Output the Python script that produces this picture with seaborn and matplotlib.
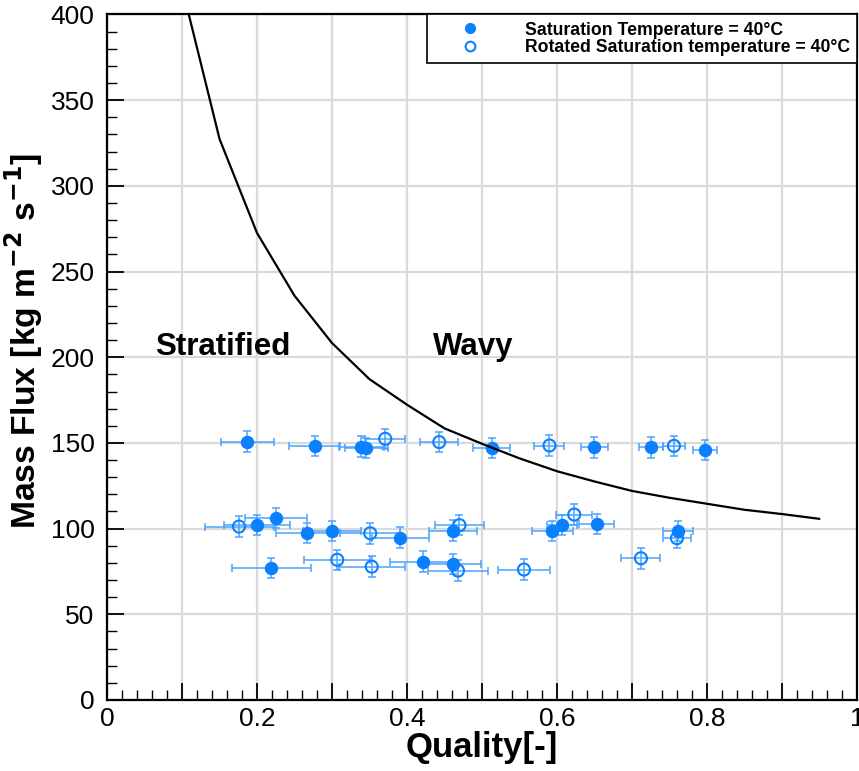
import numpy as np
import pandas as pd
import seaborn as sns
import matplotlib.pyplot as plt
from matplotlib.lines import Line2D
from matplotlib.ticker import MultipleLocator, FuncFormatter

# saturation temperature 40C - filled markers
sat_x = [0.187, 0.277, 0.339, 0.346, 0.513, 0.650, 0.726, 0.797,
         0.200, 0.225, 0.266, 0.300, 0.391, 0.462, 0.594, 0.607, 0.653, 0.762,
         0.219, 0.422, 0.462]
sat_y = [150.7, 148.3, 147.9, 147.0, 147.0, 147.4, 147.4, 146.0,
         102.0, 106.1, 97.5, 98.7, 94.8, 98.9, 98.7, 102.2, 102.6, 98.7,
         76.9, 80.8, 79.4]
sat_xerr = [0.035, 0.034, 0.030, 0.029, 0.025, 0.018, 0.016, 0.016,
            0.044, 0.041, 0.041, 0.039, 0.038, 0.032, 0.027, 0.020, 0.023, 0.020,
            0.053, 0.044, 0.037]

# rotated saturation temperature 40C - open markers
rot_x = [0.371, 0.443, 0.590, 0.756,
         0.176, 0.351, 0.470, 0.623, 0.760,
         0.307, 0.353, 0.468, 0.556, 0.712]
rot_y = [152.4, 150.5, 148.5, 148.3,
         101.2, 97.3, 102.0, 108.2, 94.4,
         81.8, 77.8, 75.5, 76.1, 82.7]
rot_xerr = [0.027, 0.025, 0.020, 0.015,
            0.046, 0.040, 0.033, 0.024, 0.019,
            0.044, 0.044, 0.040, 0.035, 0.026]

yerr_val = 6.0

# stratified / wavy transition line
trans_x = [0.10, 0.15, 0.20, 0.25, 0.30, 0.35, 0.40, 0.45, 0.50, 0.55,
           0.60, 0.65, 0.70, 0.75, 0.80, 0.85, 0.90, 0.95]
trans_y = [416, 327.4, 272.5, 235.9, 208.3, 187.2, 172.3, 158.5, 149.5, 141.0,
           133.5, 127.5, 122.0, 118.0, 114.5, 111.0, 108.5, 105.7]

blue = '#0a80ff'
bar_blue = '#4aa3ff'

sns.set_style("ticks")
plt.rcParams['font.family'] = ['Liberation Sans', 'DejaVu Sans']
plt.rcParams['text.color'] = 'black'
plt.rcParams['axes.labelcolor'] = 'black'
plt.rcParams['xtick.color'] = 'black'
plt.rcParams['ytick.color'] = 'black'

fig = plt.figure(figsize=(8.59, 7.71), dpi=100)
ax = fig.add_axes([0.1246, 0.0921, 0.873, 0.8891])

sat_df = pd.DataFrame({'x': sat_x, 'y': sat_y})
rot_df = pd.DataFrame({'x': rot_x, 'y': rot_y})
trans_df = pd.DataFrame({'x': trans_x, 'y': trans_y})

# error bars
ax.errorbar(sat_x, sat_y, xerr=sat_xerr, yerr=yerr_val, fmt='none',
            ecolor=bar_blue, elinewidth=1.1, capsize=3, capthick=1.1, zorder=3)
ax.errorbar(rot_x, rot_y, xerr=rot_xerr, yerr=yerr_val, fmt='none',
            ecolor=bar_blue, elinewidth=1.1, capsize=3, capthick=1.1, zorder=3)

sns.scatterplot(data=sat_df, x='x', y='y', ax=ax, s=75, color=blue,
                edgecolor=blue, linewidth=1, zorder=4, legend=False)
sns.scatterplot(data=rot_df, x='x', y='y', ax=ax, s=75, facecolor='none',
                edgecolor=blue, linewidth=1.5, zorder=4, legend=False)
sns.lineplot(data=trans_df, x='x', y='y', ax=ax, color='black', linewidth=1.6,
             zorder=5, sort=False)

ax.set_xlim(0, 1)
ax.set_ylim(0, 400)

ax.xaxis.set_major_locator(MultipleLocator(0.1))
ax.xaxis.set_minor_locator(MultipleLocator(0.02))
ax.yaxis.set_major_locator(MultipleLocator(50))
ax.yaxis.set_minor_locator(MultipleLocator(10))


def xfmt(v, pos):
    k = int(round(v * 10))
    if k % 2:
        return ''
    if k == 0:
        return '0'
    if k == 10:
        return '1'
    return f'{v:.1f}'


ax.xaxis.set_major_formatter(FuncFormatter(xfmt))

ax.grid(True, which='major', color='#dadada', linewidth=1.6, zorder=0)
ax.set_axisbelow(True)

ax.tick_params(axis='both', which='major', direction='in', length=12, width=1.3,
               labelsize=19, top=False, right=False)
ax.tick_params(axis='y', which='major', pad=9)
ax.tick_params(axis='x', which='major', pad=5)
ax.tick_params(axis='both', which='minor', direction='in', length=7, width=1.0,
               top=False, right=False)

for sp in ax.spines.values():
    sp.set_color('black')
    sp.set_linewidth(1.6)

ax.set_xlabel('Quality[-]', fontsize=25, fontweight='bold', labelpad=0)
ax.set_ylabel('Mass Flux [kg m$^{\\mathbf{-2}}$ s$^{\\mathbf{-1}}$]', fontsize=24.2,
              fontweight='bold')
ax.yaxis.set_label_coords(-0.083, 0.523)

ax.text(0.155, 206, 'Stratified', fontsize=22.5, fontweight='bold', ha='center', va='center')
ax.text(0.488, 206, 'Wavy', fontsize=22.5, fontweight='bold', ha='center', va='center')

handles = [
    Line2D([], [], marker='o', linestyle='none', markersize=7, color=blue),
    Line2D([], [], marker='o', linestyle='none', markersize=7, markerfacecolor='white',
           markeredgecolor=blue, markeredgewidth=1.5),
]
leg = ax.legend(handles, ['Saturation Temperature = 40°C',
                          'Rotated Saturation temperature = 40°C'],
                loc='upper right', bbox_to_anchor=(1.0, 1.0), borderaxespad=0,
                frameon=True, fancybox=False, framealpha=1, edgecolor='black',
                prop={'weight': 'bold', 'size': 12.7}, handlelength=4.1,
                handletextpad=1.05, borderpad=0.4, labelspacing=0.05)
leg.get_frame().set_linewidth(1.2)

fig.savefig('out.png', dpi=100)
